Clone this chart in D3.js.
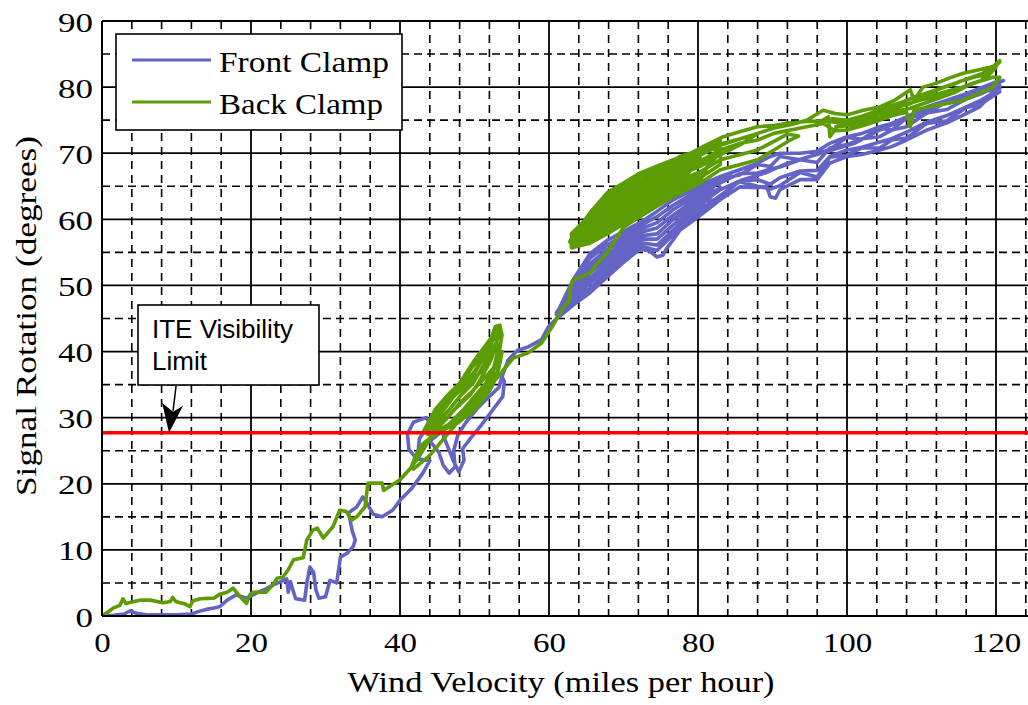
<!DOCTYPE html>
<html><head><meta charset="utf-8">
<script src="https://cdn.jsdelivr.net/npm/d3@7"></script>
<style>body{margin:0;background:#fff}svg{display:block}</style>
</head><body><svg id="c" width="1028" height="705"></svg>
<script>
const xTicks=[0,20,40,60,80,100,120];
const yTicks=[0,10,20,30,40,50,60,70,80,90];
const xMinor=[4,8,12,16,24,28,32,36,44,48,52,56,64,68,72,76,84,88,92,96,104,108,112,116,124];
const yMinor=[5,15,25,35,45,55,65,75,85];
const seriesNames=["Front Clamp","Back Clamp"];
const iteLimit=27.7;
const iteLabel=["ITE Visibility","Limit"];
const xTitle="Wind Velocity (miles per hour)";
const yTitle="Signal Rotation (degrees)";

const frontClamp=[
[0,0],[1.5,0.1],[3,0.3],[3.8,0.8],[4.6,0.4],[6,0.2],[8,0.2],[10,0.2],[12,0.3],[13,0.7],[14,1.0],[15,1.2],[15.8,1.4],[16.8,2.4],[18,3.2],[19.4,2.7],[20.8,3.5],[22,4.1],[23,4.7],[24,5.2],[24.8,5.6],[25,3.6],[25.3,5.2],[25.6,4.0],[26,2.6],[27.2,2.4],[27.5,5.0],[27.9,7.4],[28.4,6.6],[28.7,4.0],[29.1,2.7],[30,2.9],[30.6,5.4],[31.5,5.0],[32,8.9],[32.9,9.5],[33.7,10.5],[34,11.5],[33.6,12.8],[33.1,15.6],[34.2,16.5],[35,18],[35.5,17.2],[36.4,15.4],[37.6,15],[39,16],[40,17.5],[41.5,19.2],[43,21.5],[44,23.5],
[42.2,23.8],[41.2,25.2],[41,27.5],[41.8,29.3],[43.5,30],[44.5,28.5],[44,26.5],[45.2,24.8],[45.8,22.8],[46.6,21.6],[47.4,22.6],[47.2,25],[47.8,27.5],[48.8,29.2],[50.3,31.3],[51.8,33],[53.3,34.6],[53.8,36.8],[52.6,36.2],[51,34.3],[49.3,32],[47.6,30],[46,28.3],[44.6,27],[43.2,25.8],[42.4,24.6],[42.6,26.8],[43.6,28.6],[45.2,29.2],[46.2,26.2],[47.2,23.4],[47.9,21.8],[48.6,23.6],[48.4,25.3],[49.7,27.2],[51,29],[52.2,30.8],[53.8,33.2],[54,35.5],[53.7,36.2],[54.5,38.7],[55.8,40.2],[57.2,40.7],[59,41.8],[59.9,43.7],[61.7,45.8],
[61.5,46.8],[63.2,50.8],[65.5,54.8],[67.8,56.8],[70,58.2],[72.2,59.5],[74.5,61.2],[76.6,62.9],[79,64.3],[81,65.5],[83,66.5],
[81,64.4],[79,63.1],[76.6,61.4],[74.5,59.5],[72.2,58.5],[70,57.0],[67.8,55.4],[65.5,53.3],[63.2,49.9],[62,47.5],
[62.5,47.3],[63.2,48.9],[65.5,51.9],[67.8,54.1],[70,55.9],[72.2,57.5],[74.5,57.8],[76.6,59.9],[79,61.9],[81,63.4],[83,64.8],
[79,60.7],[76.6,58.3],[74.5,56.1],[72.2,56.5],[70,54.7],[67.8,52.7],[65.5,50.4],[63.2,48],[61.8,46],
[61.5,45.4],[63.2,47],[65.5,48.9],[67.8,51.3],[70,53.5],[72.2,55.5],[73.5,55.2],[74.5,54.3],[75.3,54.6],[75.8,55.6],[76.6,56.8],[77.6,58.4],[79,59.5],[81,61.2],[83,63],
[81,62.8],[79,61.3],[76.6,59.1],[74.5,57.0],[72.2,57.0],[70,55.3],[67.8,53.4],[65.5,51.1],[63.2,48.4],[61,45.6],
[63.2,50.3],[65.5,54.1],[67.8,56.1],[70,57.6],[72.2,59.0],[74.5,60.4],[76.6,62.1],[79,63.7],[81,65.0],[83,66.1],
[81,63.9],[79,62.5],[76.6,60.6],[74.5,58.7],[72.2,58.0],[70,56.4],[67.8,54.7],[65.5,52.6],[63.2,49.4],[61,45.9],
[63.2,47.5],[65.5,49.6],[67.8,52.0],[70,54.1],[72.2,56.0],[74.5,55.3],[76.6,57.6],[79,60.1],[81,61.7],[83,63.4],
[85.6,65.8],[88,66],[89.7,65.3],[91,66.3],[93.7,67.3],[96,67.4],[97.7,69.5],[100,70.5],[102,70.9],[104.4,71.7],[106,72.2],[108,73.2],[110.7,74.7],[113.4,75.7],[116,77],[117.8,77.9],[120.5,79.7],
[120.5,80.3],[117.8,78.9],[116,78.2],[113.4,76.6],[110.7,76.1],[108,74.0],[106,73.5],[104.4,72.5],[102,72.2],[100,71.3],[97.7,70.8],[96,68.6],[93.7,69],[91,67.9],[89.7,67.6],[88,67],[85.6,66.9],[83,65.5],[81,64.8],
[83,66.5],[85.6,67.5],[88,68.5],[89.7,69.5],[91,70],[93.7,70],[96,70.3],[97.7,71.5],[100,72.5],[102,73],[104.4,74],[106,74.5],[108,75.5],[110.7,77],[113.4,78],[116,79],[117.8,79.8],[120.5,81],
[119.5,79],[117.8,77],[116,76],[113.4,74.6],[110.7,73.5],[108,72],[106,71],[104.4,70.5],[102,69.8],[100,69.5],[97.7,68.5],[96,66],[93.7,66],[91,64.5],[90.4,63.2],[89.7,63.4],[89.2,65],[88,64.8],[85.6,64.9],[83,63],[81,61.5],[79,60.4],
[83,63.6],[85.6,65.7],[88,65.0],[89.7,64.6],[91,65.1],[93.7,67.1],[96,66.4],[97.7,69.4],[100,69.7],[102,70.8],[104.4,70.8],[106,72.0],[108,72.3],[110.7,74.5],[113.4,74.9],[116,76.9],[117.8,77.3],[120.5,79.3],
[117.8,79.6],[116,78.2],[113.4,77.8],[110.7,76.0],[108,75.3],[106,73.5],[104.4,73.8],[102,72.1],[100,72.4],[97.7,70.6],[96,69.9],[93.7,69.0],[91,69.5],[89.7,68.0],[88,68.3],[85.6,66.7],[83,66.2],
[80,62],[83,64.5],[86,66],[89,67],[92,68.5],[95,69.5],[98,70.5],[101,71.5],[104,73.3],[107,74.8],[110,76.2],[113,77.5],[116,78.5],[119,80],[121,81]
];

const backClamp=[
[0,0],[0.8,0.6],[1.5,1.2],[2.4,1.6],[2.8,2.6],[3.2,1.9],[4,2.1],[5.1,2.4],[6.5,2.4],[8.2,2.0],[9.2,2.2],[9.5,2.8],[9.9,2.2],[10.5,2.0],[11.2,1.8],[11.8,1.4],[12.2,2.3],[13.2,2.6],[15,2.7],[15.8,3.3],[16.8,3.6],[17.6,4.2],[18.5,3.0],[19.4,1.9],[19.9,3.3],[20.3,3.6],[22,3.6],[23,4.8],[23.5,5.7],[24.3,5.9],[25,7],[25.7,8.5],[27,8.8],[27.5,11.5],[28.3,13],[28.9,13.3],[29.7,11.8],[31,13.5],[31.9,16],[32.8,15.8],[33.5,14.5],[34.2,15],[35.3,16.5],[35.7,20.1],[37.6,20.1],[37.8,19],[40,20.6],[41.3,22.2],[42.5,24],[43.6,26],[44.2,27.2],
[43.2,28],[44.7,31.2],[46.3,33.3],[48,35.2],[50,38.7],[51.2,40.5],[52.3,42.2],[52.8,43.8],[53.4,44],[53.7,42.5],
[53.4,40.5],[53.2,38.7],[52.4,36.8],[51.5,35.2],[50,33.2],[48.5,31.2],[47,29.5],[46,28.2],[45,27.4],
[44.1,28.6],[45.9,31.2],[47.2,33.2],[49.2,35.2],[51,38.7],[52.8,42.6],[53.2,43.5],
[52.9,41],[52.2,38.7],[50.5,35.2],[49.4,33.4],[47.3,31.2],[45.8,29.3],[44.5,28],
[45,29.2],[46.6,31.2],[48.1,33.3],[49.8,35.2],[51.6,38.7],[53,41.5],
[52.8,42.8],[51.8,41],[50.6,38.7],[49.5,37.4],[48.6,35.2],[47.2,34],[45.3,31.2],[44,29],[43.7,27.5],
[44.3,29.8],[45.5,31.8],[47.4,34.3],[49,36.5],[50.5,38.9],[52,41.5],[52.9,43],
[53.1,40],[52.6,37.6],[51.2,35.8],[49.7,34],[48,32.2],[46.5,30.2],[45.2,28.7],[44.3,27.8],
[43.8,28.5],[45,30.5],[46.5,32.4],[48.4,34.6],[50.4,37.6],[51.8,40],[52.5,41.8],[53.3,42.6],
[52.5,39.8],[51.3,37.4],[49.9,35.9],[48.1,34.2],[46.7,32.6],[45.1,30.2],[43.9,28.3],
[44.5,27.6],[46.5,28.6],[48.3,29.8],[49.6,31.2],[50.8,33],[51.8,34.6],[52.8,36],[53.4,38.2],[53.7,40],
[53.2,37.2],[52.2,35.6],[51,33.8],[49.8,32.2],[48.6,30.8],[47.2,29.4],[45.6,28.4],[44.2,27.6],
[45.5,28.0],[47.8,29.2],[49.2,30.6],[50.3,32.3],[51.6,34.1],[52.6,35.4],
[52.1,34.2],[50.9,32.4],[49.7,30.8],[48.1,29.6],[46.2,28.4],[44.6,27.4],
[43,26],[42.2,24.5],[41.5,22.5],[41.8,22.2],[44,24.3],[46.3,27.4],[48.5,30.3],[50.7,33.1],[53,36],[55.2,39],[57.2,39.8],[59,41.3],[60.4,43.7],[61.7,46.3],[62.8,47.8],[62.8,49.3],[63.2,50.8],[64.3,51.3],[65.5,51.9],[66.6,53.5],[67.8,54.9],[68.7,56.5],[69.5,57.9],
[70,58.8],[72.2,60.4],[74.4,61.9],[76.6,63.4],[78.5,64.5],[80.3,65.5],[83,67.5],[85.7,68.3],[88,69],[90.2,70.5],[92.4,72],[93.5,72.6],
[92,72.9],[90.2,71.8],[88,70.5],[85.7,69.8],[83,69],[80.3,67.2],[78.5,66.3],[76.6,65.3],[74.4,63.9],[72.2,62.6],[70,61],[67.8,59.5],[65.5,57.7],[63,56.3],[62.8,56.6],
[63.2,57.6],[65.5,60.2],[67.8,62.9],[70,64.4],[72.2,65.9],[74.4,67],[76.6,68.1],[78.5,68.9],[80.3,69.7],[83,71.2],[85.7,72.2],[88,73],
[85.7,71.3],[83,69.8],[80.3,68],[78.5,67.2],[76.6,66.2],[74.4,65],[72.2,63.7],[70,62.2],[67.8,60.7],[65.5,58.5],[63.5,57],
[63.6,58],[65.5,61],[67.8,64],[70,65.5],[72.2,67],[74.4,68],[76.6,69],[78.5,69.8],[80.3,70.5],[83,72],
[83,68.3],[80.3,66.3],[78.5,65.4],[76.6,64.3],[74.4,62.9],[72.2,61.5],[70,59.9],[67.8,58.4],[65.5,56.8],[63.2,55.7],
[63,57.8],[65.5,60.6],[67.8,63.5],[70,64.9],[72.2,66.5],[74.4,67.5],[76.6,68.5],[78.5,69.4],[80.3,70.1],[83,71.6],
[80.3,65.9],[78.5,64.9],[76.6,63.8],[74.4,62.4],[72.2,60.9],[70,59.3],[67.8,57.8],[65.5,56.4],[63,55.7],
[63,57.0],[65.5,58.9],[67.8,61.2],[70,62.7],[72.2,64.2],[74.4,65.5],[76.6,66.6],[78.5,67.6],[80.3,68.4],[83,70.1],
[80.3,66.8],[78.5,65.8],[76.6,64.8],[74.4,63.4],[72.2,62.1],[70,60.5],[67.8,59.0],[65.5,57.3],[63,56.1],
[63.5,57.4],[65.5,59.8],[67.8,62.3],[70,63.8],[72.2,65.4],[74.4,66.5],[76.6,67.6],[78.5,68.5],[80.3,69.3],
[78.5,66.7],[76.6,65.7],[74.4,64.5],[72.2,63.2],[70,61.6],[67.8,60.1],[65.5,58.1],[63,56.6],
[63.5,57.2],[65.5,59.3],[67.8,61.8],[70,63.3],[72.2,64.8],[74.4,66],[76.6,67.1],[78.5,68],[80.3,68.8],[83,70.5],
[85.7,71.5],[88,72],[90.2,73],[92.4,73.5],[94.6,74],[96.8,74.5],
[98.4,73.4],[100,73.5],[102.2,74.2],[104.4,75],[106.4,75.8],[108,76.2],[108.5,74],[109,76.5],[110.2,76.8],[112,77.2],[113.8,77.6],[115.6,78],[117.6,79],[119.6,80],[120.5,81.5],
[119.6,81.5],[117.6,80.8],[115.6,80],[113.8,79.5],[112,78.9],[110.2,78.4],[108.5,77.5],[106.4,76.9],[104.4,76],[102.2,75.3],[100,74.6],[98.4,74.7],[96.8,74.9],[94.6,74.8],[92.4,74.6],[90.2,74.2],[88,74],[85.7,73.3],[83.4,72.5],[81,71.2],[79,70],[77.5,69.5],
[79,69.2],[81,70.3],[83.4,71.5],[85.7,72.2],[88,73],[90.2,73.8],[92.4,74.3],[94.6,75],[96.8,76.5],[98.4,76],[100,75.8],[102.2,76.5],[104.4,77],[106.4,78],[108.5,79.6],[109,78],[110.2,80],[112,80.6],[113.8,81.4],[115.6,82.1],[117.6,82.6],[119.6,83.1],[120.5,84],
[119,82],[117,81.5],[115,80.8],[113,80],[111,79],[109,78.5],[107,77.5],[105,76.6],[103,75.8],[101,75],[99,74.5],[97.7,72.5],[97.5,75.5],[96,74.5],
[98,75.2],[100,75],[102,75.6],[104,76.4],[106,77.2],[108,78],[110,78.8],[112,79.6],[114,80.3],[116,81.2],[118,82],[120,83],
[118.5,81.2],[116.5,80.4],[114.5,79.2],[112.5,78.4],[110.5,77.6],[108.5,76.8],[106.5,76.3],[104.5,75.4],[102.5,74.8],[100.5,74.2],[98.5,74.0],
[100,74.2],[102,75.0],[104,75.8],[106,76.6],[108,77.4],[110,78.1],[112,78.6],[114,79.4],[116,80.2],[118,81.0],[120.5,83.8]
];

const colors={front:"#6464c6",back:"#5c9c04",limit:"#ff0000"};
const W=1028,H=705;
const x=d3.scaleLinear().domain([0,120]).range([102,996]);
const y=d3.scaleLinear().domain([0,90]).range([616,21]);
const svg=d3.select("#c");
svg.append("rect").attr("width",W).attr("height",H).attr("fill","#fff");
svg.append("defs").append("clipPath").attr("id","pc").append("rect")
  .attr("x",x(0)).attr("y",y(90)).attr("width",W-x(0)).attr("height",y(0)-y(90));

const g=svg.append("g");
g.selectAll(".vm").data(xMinor).join("line")
 .attr("x1",d=>x(d)).attr("x2",d=>x(d)).attr("y1",y(90)).attr("y2",y(0))
 .attr("stroke","#000").attr("stroke-width",1.6).attr("stroke-dasharray","8,6");
g.selectAll(".hm").data(yMinor).join("line")
 .attr("y1",d=>y(d)).attr("y2",d=>y(d)).attr("x1",x(0)).attr("x2",W)
 .attr("stroke","#000").attr("stroke-width",1.6).attr("stroke-dasharray","8,5");
g.selectAll(".vM").data(xTicks).join("line")
 .attr("x1",d=>x(d)).attr("x2",d=>x(d)).attr("y1",y(90)).attr("y2",y(0))
 .attr("stroke","#000").attr("stroke-width",1.8);
g.selectAll(".hM").data(yTicks).join("line")
 .attr("y1",d=>y(d)).attr("y2",d=>y(d)).attr("x1",x(0)).attr("x2",W)
 .attr("stroke","#000").attr("stroke-width",1.8);

const serif="'Liberation Serif','Times New Roman',Times,serif";
const xAxis=d3.axisBottom(x).tickValues(xTicks).tickSize(0).tickPadding(0);
const xa=svg.append("g").attr("transform",`translate(0,${y(0)})`).call(xAxis);
xa.select(".domain").remove();
xa.selectAll("text").attr("font-family",serif).attr("font-size",27)
 .attr("fill","#000").attr("dy",0).attr("y",36)
 .attr("textLength",d=>String(d).length*16.5).attr("lengthAdjust","spacingAndGlyphs");
const yAxis=d3.axisLeft(y).tickValues(yTicks).tickSize(0).tickPadding(0);
const ya=svg.append("g").attr("transform",`translate(${x(0)-9},0)`).call(yAxis);
ya.select(".domain").remove();
ya.selectAll("text").attr("font-family",serif).attr("font-size",27)
 .attr("fill","#000").attr("dy",0).attr("y",10)
 .attr("textLength",d=>String(d).length*17.5).attr("lengthAdjust","spacingAndGlyphs");

svg.append("text").attr("x",561).attr("y",692).attr("text-anchor","middle")
 .attr("font-family",serif).attr("font-size",30)
 .attr("textLength",427).attr("lengthAdjust","spacingAndGlyphs").text(xTitle);
svg.append("text").attr("transform","translate(36,316) rotate(-90)").attr("text-anchor","middle")
 .attr("font-family",serif).attr("font-size",30)
 .attr("textLength",360).attr("lengthAdjust","spacingAndGlyphs").text(yTitle);

const line=d3.line().x(d=>x(d[0])).y(d=>y(d[1]));
const dg=svg.append("g").attr("clip-path","url(#pc)");
dg.append("path").datum(frontClamp).attr("d",line).attr("fill","none")
 .attr("stroke",colors.front).attr("stroke-width",3.6).attr("stroke-linejoin","round").attr("stroke-linecap","round");
dg.append("path").datum(backClamp).attr("d",line).attr("fill","none")
 .attr("stroke",colors.back).attr("stroke-width",3.6).attr("stroke-linejoin","round").attr("stroke-linecap","round");
dg.append("line").attr("x1",x(0)).attr("x2",W).attr("y1",y(iteLimit)).attr("y2",y(iteLimit))
 .attr("stroke",colors.limit).attr("stroke-width",3.5);

svg.append("line").attr("x1",x(0)).attr("x2",x(0)).attr("y1",y(90)).attr("y2",y(0)).attr("stroke","#000").attr("stroke-width",2);
svg.append("line").attr("x1",x(0)).attr("x2",W).attr("y1",y(0)).attr("y2",y(0)).attr("stroke","#000").attr("stroke-width",2);

const lg=svg.append("g");
lg.append("rect").attr("x",116).attr("y",34).attr("width",286).attr("height",96)
 .attr("fill","#fff").attr("stroke","#000").attr("stroke-width",1.6);
const lc=[colors.front,colors.back];
seriesNames.forEach((n,i)=>{
  const yy=60+i*42;
  lg.append("line").attr("x1",132).attr("x2",211).attr("y1",yy).attr("y2",yy).attr("stroke",lc[i]).attr("stroke-width",3.2);
  lg.append("text").attr("x",219).attr("y",yy+12).attr("font-family",serif).attr("font-size",30)
   .attr("textLength",i===0?170:164).attr("lengthAdjust","spacingAndGlyphs").text(n);
});

const tipX=x(9),tipY=y(iteLimit);
const an=svg.append("g");
an.append("rect").attr("x",138).attr("y",305).attr("width",181).attr("height",80)
 .attr("fill","#fff").attr("stroke","#000").attr("stroke-width",1.6);
iteLabel.forEach((t,i)=>{
  an.append("text").attr("x",152).attr("y",338+i*32).attr("font-family","'Liberation Sans',Arial,sans-serif")
   .attr("font-size",26).text(t);
});
an.append("line").attr("x1",tipX+7).attr("y1",tipY-47).attr("x2",tipX+4).attr("y2",tipY-22)
 .attr("stroke","#000").attr("stroke-width",1.5);
an.append("path").attr("d",`M${tipX},${tipY} L${tipX-7},${tipY-30} L${tipX+4},${tipY-21} L${tipX+14},${tipY-27} Z`).attr("fill","#000");
</script></body></html>
